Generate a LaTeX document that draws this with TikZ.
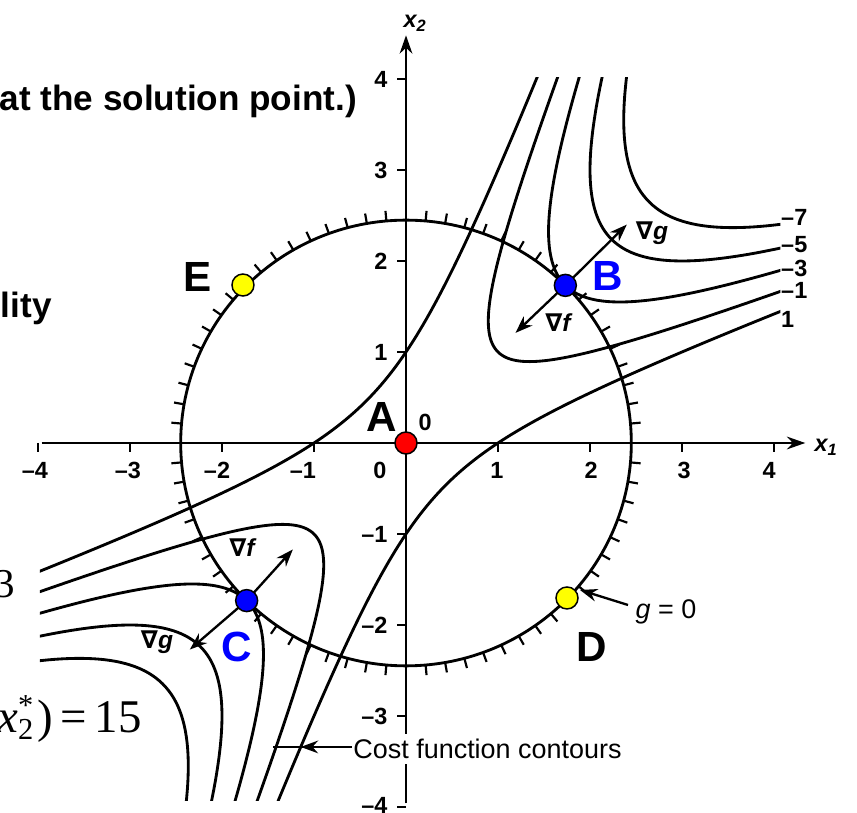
\documentclass[tikz,border=0pt]{standalone}
\usepackage{fontspec}
\usepackage{graphicx}
\setmainfont{Liberation Sans}
\newfontfamily\serffam{Liberation Serif}
\newfontfamily\dvsans{DejaVu Sans}
\usetikzlibrary{arrows.meta}
\definecolor{ptblue}{RGB}{0,0,255}
\definecolor{ptred}{RGB}{255,0,0}
\definecolor{ptyellow}{RGB}{255,255,0}
\begin{document}
\begin{tikzpicture}[x=2.76cm,y=2.73cm,
  cont/.style={line width=0.085cm},
  axisline/.style={line width=0.08cm},
  ticky/.style={line width=0.065cm},
  arr/.style={line width=0.07cm,-{Stealth[length=0.52cm,width=0.38cm]}},
  num/.style={font=\fontsize{20}{20}\selectfont\bfseries, inner sep=0pt},
  lab/.style={font=\fontsize{36}{36}\selectfont\bfseries, inner sep=0pt},
  pnt/.style={circle, draw=black, line width=0.045cm, minimum size=0.66cm, inner sep=0pt},
  grad/.style={font=\fontsize{21}{21}\selectfont, inner sep=0pt},
  slide/.style={font=\fontsize{30}{30}\selectfont\bfseries, inner sep=0pt},
]
\useasboundingbox (-4.413,-4.055) rectangle (4.902,4.868);

% cost function contours f = x1^2 + x2^2 - 3 x1 x2 = c
\begin{scope}
\clip (-3.98,-3.93) rectangle (4.07,4.02);
\foreach \k in {1,3,5,7}{
  \draw[cont] plot[domain=-2.3:2.3, samples=161, smooth, variable=\t]
    ({sqrt(\k)*cosh(\t)-sqrt(0.2*\k)*sinh(\t)},{sqrt(\k)*cosh(\t)+sqrt(0.2*\k)*sinh(\t)});
  \draw[cont] plot[domain=-2.3:2.3, samples=161, smooth, variable=\t]
    ({-sqrt(\k)*cosh(\t)+sqrt(0.2*\k)*sinh(\t)},{-sqrt(\k)*cosh(\t)-sqrt(0.2*\k)*sinh(\t)});
}
\draw[cont] plot[domain=-2.3:2.3, samples=161, smooth, variable=\t]
  ({sinh(\t)-0.44721*cosh(\t)},{sinh(\t)+0.44721*cosh(\t)});
\draw[cont] plot[domain=-2.3:2.3, samples=161, smooth, variable=\t]
  ({sinh(\t)+0.44721*cosh(\t)},{sinh(\t)-0.44721*cosh(\t)});
\end{scope}

% constraint circle g = 0 with hatching
\draw[cont] (0,0) circle [radius=2.449];
\foreach \a in {0,5,...,355}
  \draw[ticky] ({2.449*cos(\a)},{2.449*sin(\a)}) -- ({2.56*cos(\a)},{2.56*sin(\a)});

% axes
\coordinate (xs) at (-3.96,0);
\coordinate (xe) at (4.34,0);
\coordinate (ys) at (0,-3.96);
\coordinate (ye) at (0,4.48);
\draw[axisline,-{Stealth[length=0.55cm,width=0.38cm]}] (xs) -- (xe);
\draw[axisline,-{Stealth[length=0.55cm,width=0.38cm]}] (ys) -- (ye);
\foreach \i in {-4,-3,-2,-1,1,2,3,4}{
  \draw[ticky] (\i,0) -- ++(0,-0.26cm);
  \draw[ticky] (0,\i) -- ++(-0.26cm,0);
}
\node[num] (xl1) at (4.565,-0.044) {\itshape x\textsubscript{1}};
\node[num] (xl2) at (0.098,4.615) {\itshape x\textsubscript{2}};

\node[num] (xm4) at (-4.033,-0.297) {–4};
\node[num] (xm3) at (-3.022,-0.297) {–3};
\node[num] (xm2) at (-2.054,-0.297) {–2};
\node[num] (xm1) at (-1.120,-0.297) {–1};
\node[num] (x0)  at (-0.283,-0.297) {0};
\node[num] (xp1) at (0.989,-0.297) {1};
\node[num] (xp2) at (2.011,-0.297) {2};
\node[num] (xp3) at (3.022,-0.297) {3};
\node[num] (xp4) at (3.946,-0.297) {4};

\node[num,anchor=east] (yp4) at (-0.2,4) {4};
\node[num,anchor=east] (yp3) at (-0.2,3) {3};
\node[num,anchor=east] (yp2) at (-0.2,2) {2};
\node[num,anchor=east] (yp1) at (-0.2,1) {1};
\node[num,anchor=east] (ym1) at (-0.2,-1) {–1};
\node[num,anchor=east] (ym2) at (-0.2,-2) {–2};
\node[num,anchor=east] (ym3) at (-0.2,-3) {–3};
\node[num,anchor=east] (ym4) at (-0.2,-3.985) {–4};

% contour value labels
\node[num,anchor=west] (c7) at (4.076,2.484) {–7};
\node[num,anchor=west] (c5) at (4.076,2.176) {–5};
\node[num,anchor=west] (c3) at (4.076,1.923) {–3};
\node[num,anchor=west] (c1) at (4.076,1.681) {–1};
\node[num,anchor=west] (cp1) at (4.076,1.363) {1};
\node[num] (czero) at (0.207,0.231) {0};

% gradient arrows
\coordinate (Bg) at (2.40,2.40);
\coordinate (Bf) at (1.19,1.21);
\coordinate (Cf) at (-1.23,-1.17);
\coordinate (Cg) at (-2.35,-2.27);
\coordinate (Bc) at (1.732,1.732);
\coordinate (Cc) at (-1.732,-1.732);
\draw[arr] (Bc) -- (Bg);
\draw[arr] (Bc) -- (Bf);
\draw[arr] (Cc) -- (Cf);
\draw[arr] (Cc) -- (Cg);
\node[grad] (lBg) at (2.674,2.308) {{\dvsans\bfseries ∇}{\bfseries\itshape g}};
\node[grad] (lBf) at (1.652,1.319) {{\dvsans\bfseries ∇}{\bfseries\itshape f}};
\node[grad] (lCf) at (-1.783,-1.154) {{\dvsans\bfseries ∇}{\bfseries\itshape f}};
\node[grad] (lCg) at (-2.707,-2.187) {{\dvsans\bfseries ∇}{\bfseries\itshape g}};

% g = 0 label
\node[font=\fontsize{23}{23}\selectfont, inner sep=0pt] (g0) at (2.826,-1.857) {\itshape g\upshape\ = 0};
\coordinate (g0t) at (2.413,-1.780);
\coordinate (g0h) at (1.891,-1.615);
\draw[arr] (g0t) -- (g0h);

% cost function contours label
\node[font=\fontsize{23}{23}\selectfont, fill=white, inner xsep=0.05cm, inner ysep=0.15cm] (cfc) at (0.886,-3.363) {Cost function contours};
\coordinate (cfa) at (-1.144,-3.34);
\coordinate (cfb) at (-1.45,-3.34);
\coordinate (cfs) at (cfc.west |- cfa);
\draw[line width=0.07cm] (cfs) -- (cfb);
\draw[arr] (cfs) -- (cfa);

% points
\node[pnt, fill=ptred] (A) at (0,0) {};
\node[pnt, fill=ptblue] (B) at (1.732,1.732) {};
\node[pnt, fill=ptblue] (C) at (-1.732,-1.732) {};
\node[pnt, fill=ptyellow] (D) at (1.75,-1.703) {};
\node[pnt, fill=ptyellow] (E) at (-1.772,1.736) {};
\node[lab] (lA) at (-0.261,0.286) {A};
\node[lab, text=ptblue] (lB) at (2.196,1.835) {B};
\node[lab, text=ptblue] (lC) at (-1.837,-2.242) {C};
\node[lab] (lD) at (2.022,-2.242) {D};
\node[lab] (lE) at (-2.261,1.824) {E};

% slide text remnants
\node[slide, anchor=base west] (t1) at (-4.42,3.659) {at the solution point.)};
\node[slide, anchor=base east] (t2) at (-3.848,1.374) {lity};
\node[font=\fontsize{35}{35}\selectfont\serffam, anchor=base east, inner sep=0pt] (t3) at (-4.25,-1.703) {3};
\node[font=\fontsize{40}{40}\selectfont\serffam, anchor=base east, inner sep=0pt] (t4) at (-2.870,-3.176)
  {\itshape x\upshape\rlap{\raisebox{0.75ex}{\fontsize{26}{26}\selectfont *}}\raisebox{-0.35ex}{\fontsize{26}{26}\selectfont 2}\kern0.08em)\,=\,15};
\end{tikzpicture}
\end{document}
